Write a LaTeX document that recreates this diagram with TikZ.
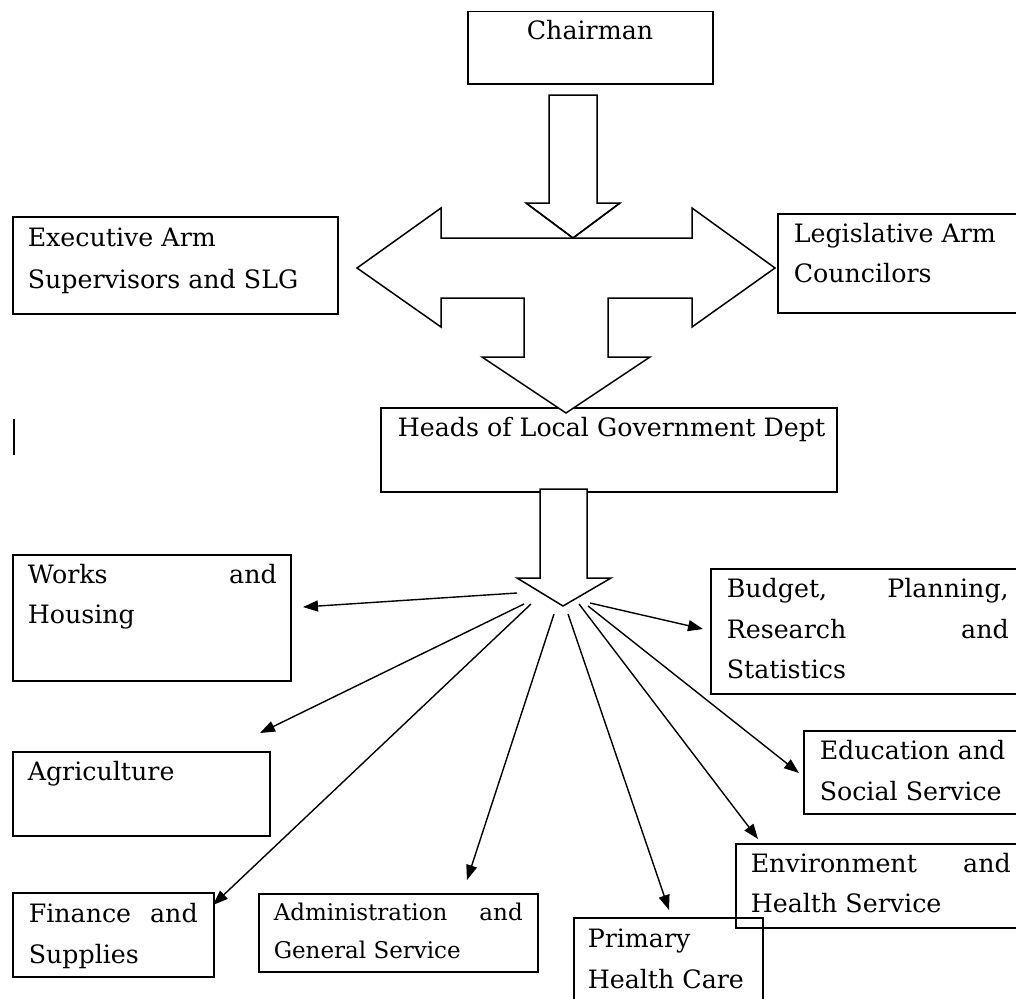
\documentclass[tikz,border=0pt]{standalone}
\usepackage{fontspec}
\setmainfont{DejaVu Serif}
\usetikzlibrary{arrows.meta}
\begin{document}
\begin{tikzpicture}[x=1pt,y=-1pt,line width=1.5pt,
  orgbox/.style={draw,line width=1.5pt,inner sep=0pt,anchor=north west},
  txt/.style={inner sep=0pt,anchor=base west,font=\fontsize{25.3}{41}\selectfont},
  smalltxt/.style={inner sep=0pt,anchor=base west,font=\fontsize{23}{38}\selectfont},
  blockarrow/.style={draw,line width=1.5pt,line join=miter,fill=white},
  conn/.style={line width=1.4pt,-{Triangle[length=15pt,width=11pt]}}]
\clip (0,0) rectangle (1016,998);
\fill[white] (0,0) rectangle (1016,998);

% boxes
\node[orgbox,minimum width=245pt,minimum height=72pt] (chair) at (467,11) {};
\node[orgbox,minimum width=325pt,minimum height=97pt] (exec) at (12,216) {};
\node[orgbox,minimum width=260pt,minimum height=99pt] (legis) at (777,213) {};
\node[orgbox,minimum width=456pt,minimum height=84pt] (heads) at (380,407) {};
\node[orgbox,minimum width=278pt,minimum height=126pt] (works) at (12,554) {};
\node[orgbox,minimum width=257pt,minimum height=84pt] (agri) at (12,751) {};
\node[orgbox,minimum width=320pt,minimum height=125pt] (budget) at (710,568) {};
\node[orgbox,minimum width=230pt,minimum height=83pt] (edu) at (803,730) {};
\node[orgbox,minimum width=201pt,minimum height=84pt] (fin) at (12,892) {};
\node[orgbox,minimum width=279pt,minimum height=78pt] (admin) at (258,893) {};
\node[orgbox,minimum width=189pt,minimum height=100pt] (prim) at (573,917) {};
\node[orgbox,minimum width=300pt,minimum height=84pt] (env) at (735,843) {};

% texts
\node[txt,anchor=base] (tchair) at (590,40) {Chairman};
\node[txt] (texec1) at (27,246) {Executive Arm};
\node[txt] (texec2) at (27,288) {Supervisors and SLG};
\node[txt] (tlegis1) at (793,242) {Legislative Arm};
\node[txt] (tlegis2) at (793,282) {Councilors};
\node[txt] (theads) at (397,436) {Heads of Local Government Dept};
\node[txt] (tworks1) at (27,583) {\hbox to 249pt{Works\hfill and}};
\node[txt] (tworks2) at (27,623) {Housing};
\node[txt] (tagri) at (27,780) {Agriculture};
\node[txt] (tbud1) at (726,597) {\hbox to 282pt{Budget,\hfill Planning,}};
\node[txt] (tbud2) at (726,638) {\hbox to 282pt{Research\hfill and}};
\node[txt] (tbud3) at (726,678) {Statistics};
\node[txt] (tedu1) at (819,759) {Education and};
\node[txt] (tedu2) at (819,800) {Social Service};
\node[txt] (tenv1) at (750,872) {\hbox to 260pt{Environment\hfill and}};
\node[txt] (tenv2) at (750,912) {Health Service};
\node[txt] (tfin1) at (28,922) {\hbox to 169pt{Finance\hfill and}};
\node[txt] (tfin2) at (28,963) {Supplies};
\node[smalltxt] (tadm1) at (273,920) {\hbox to 249pt{Administration\hfill and}};
\node[smalltxt] (tadm2) at (273,958) {General Service};
\node[txt] (tprim1) at (587,947) {Primary};
\node[txt] (tprim2) at (587,988) {Health Care};

% block arrows
\draw[blockarrow] (549,95) -- (597,95) -- (597,203) -- (620,203) -- (573,238) -- (526,203) -- (549,203) -- cycle;
\draw[blockarrow] (357,268) -- (441,208) -- (441,238) -- (692,238) -- (692,208) -- (775,268)
  -- (692,327) -- (692,298) -- (608,298) -- (608,357) -- (650,357) -- (566,413)
  -- (482,357) -- (524,357) -- (524,298) -- (441,298) -- (441,327) -- cycle;
\draw[line width=1.5pt] (526,203) -- (573,238) -- (620,203);
\draw[blockarrow] (540,489) -- (587,489) -- (587,578) -- (611,578) -- (563,606) -- (517,578) -- (540,578) -- cycle;

% stray cursor mark
\draw[line width=1.3pt] (14,419) -- (14,455);

% connector end points
\coordinate (sWorks) at (517,593);
\coordinate (sAgri) at (524,604);
\coordinate (sFin) at (531,604);
\coordinate (sAdm) at (554,614);
\coordinate (sPrim) at (568,614);
\coordinate (sEnv) at (579,604);
\coordinate (sEdu) at (588,606);
\coordinate (sBud) at (590,603);
\coordinate (eWorks) at (303,607);
\coordinate (eAgri) at (260,733);
\coordinate (eFin) at (213,905);
\coordinate (eAdm) at (467,880);
\coordinate (ePrim) at (669,910);
\coordinate (eEnv) at (758,839);
\coordinate (eEdu) at (799,773);
\coordinate (eBud) at (703,629);

\draw[conn] (sWorks) -- (eWorks);
\draw[conn] (sAgri) -- (eAgri);
\draw[conn] (sFin) -- (eFin);
\draw[conn] (sAdm) -- (eAdm);
\draw[conn] (sPrim) -- (ePrim);
\draw[conn] (sEnv) -- (eEnv);
\draw[conn] (sEdu) -- (eEdu);
\draw[conn] (sBud) -- (eBud);
\end{tikzpicture}
\end{document}
